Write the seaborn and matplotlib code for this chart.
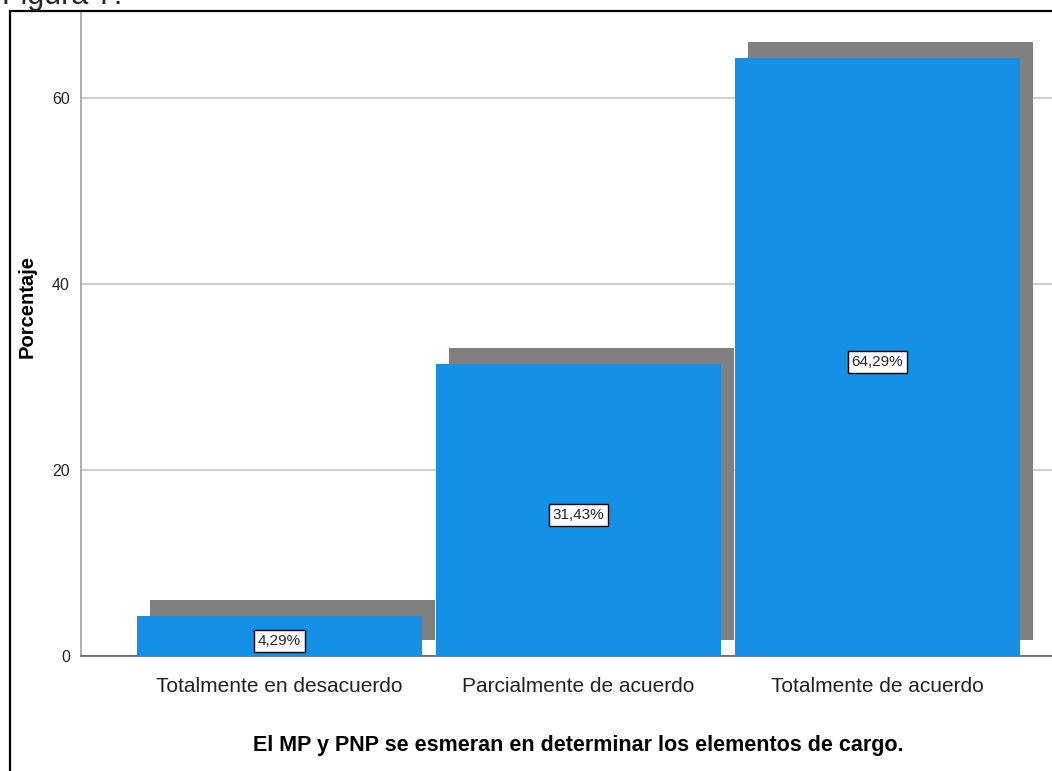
import matplotlib
matplotlib.use('Agg')
import matplotlib.pyplot as plt
import seaborn as sns
from matplotlib.patches import Rectangle
from matplotlib.transforms import offset_copy

sns.set_style('white')
plt.rcParams['font.family'] = ['Liberation Sans', 'DejaVu Sans']

# datos
categorias = ['Totalmente en desacuerdo', 'Parcialmente de acuerdo', 'Totalmente de acuerdo']
porcentajes = [4.29, 31.43, 64.29]
ticks_y = [0, 20, 40, 60]

azul = '#1490e6'
gris = '#808080'

fig = plt.figure(figsize=(10.52, 7.71), dpi=100)
ax = fig.add_axes([81 / 1052, 115 / 771, 971 / 1052, 644 / 771])

# sombra (mismas barras desplazadas)
sns.barplot(x=categorias, y=porcentajes, color=gris, saturation=1, width=0.953, ax=ax, zorder=2)
sombra = offset_copy(ax.transData, fig=fig, x=13, y=16, units='dots')
for p in ax.patches:
    p.set_transform(sombra)
    p.set_linewidth(0)

sns.barplot(x=categorias, y=porcentajes, color=azul, saturation=1, width=0.953, ax=ax, zorder=3)
for p in ax.patches[len(categorias):]:
    p.set_linewidth(0)

etiqueta = offset_copy(ax.transData, fig=fig, x=0, y=-5, units='dots')
for i, v in enumerate(porcentajes):
    ax.text(i, v / 2, f'{v:.2f}%'.replace('.', ','), ha='center', va='center',
            fontsize=11, zorder=5, transform=etiqueta,
            bbox=dict(boxstyle='square,pad=0.25', fc='white', ec='black', lw=1))

ax.set_xlim(-0.664, 2.584)
ax.set_ylim(0, 69.2)
ax.set_yticks(ticks_y)
ax.yaxis.grid(True, color='#d0d0d0', lw=1.5)
ax.set_axisbelow(True)
ax.tick_params(axis='y', length=0, labelsize=11.5, pad=8)
ax.tick_params(axis='x', length=0, labelsize=15, pad=15, labelcolor='#222222')

for s in ['top', 'right']:
    ax.spines[s].set_visible(False)
ax.spines['left'].set_color('#a0a0a0')
ax.spines['bottom'].set_color('#606060')
ax.spines['left'].set_linewidth(1.2)
ax.spines['bottom'].set_linewidth(1.2)

ax.set_xlabel('El MP y PNP se esmeran en determinar los elementos de cargo.',
              fontsize=15.5, fontweight='bold', color='black')
ax.set_ylabel('Porcentaje', fontsize=14.5, fontweight='bold', color='black')
ax.xaxis.set_label_coords(0.512, -0.122)
ax.yaxis.set_label_coords(-0.046, 0.543)

# marco exterior y título cortado
fig.patches.append(Rectangle((10 / 1052, -0.1), 1.2, 1 - 11 / 771 + 0.1,
                             transform=fig.transFigure, fill=False, ec='black', lw=1.6))
fig.text(2 / 1052, 1 - 4 / 771, 'Figura 7.', fontsize=22, va='baseline', ha='left')

fig.savefig('out.png', dpi=100)
